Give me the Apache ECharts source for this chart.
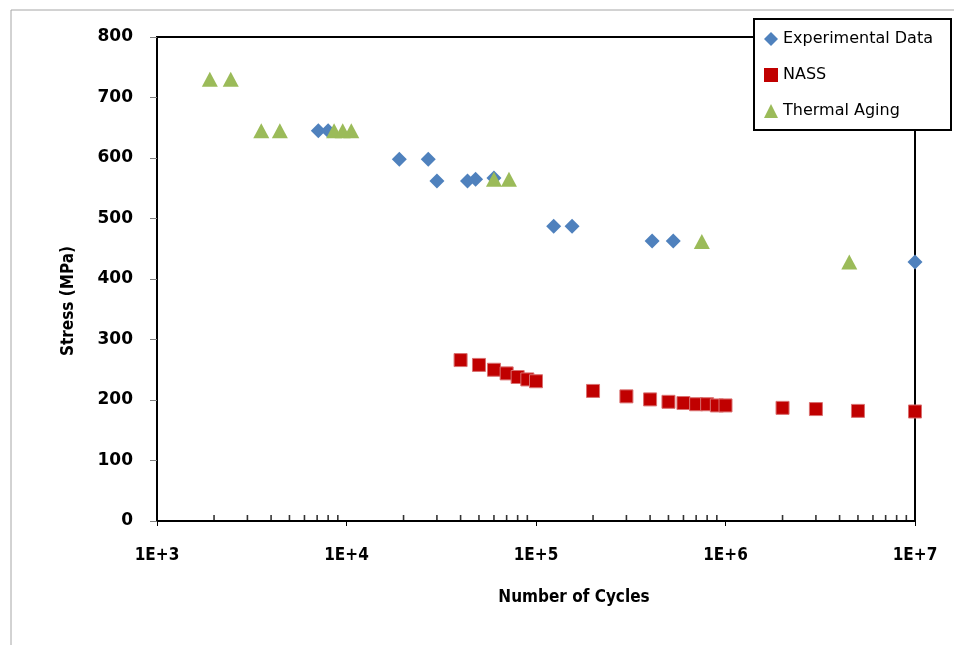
<!DOCTYPE html>
<html>
<head>
<meta charset="utf-8">
<style>
  html, body { margin: 0; padding: 0; background: #fff; }
  #main { width: 954px; height: 645px; }
</style>
<script src="https://cdn.jsdelivr.net/npm/echarts@6/dist/echarts.min.js"></script>
</head>
<body>
<div id="main"></div>
<script>
// 试验数据 Experimental Data
var expCycles = [7100, 8000, 19000, 27000, 30000, 43500, 48000, 60000, 124000, 155000, 410000, 530000, 10000000];
var expStress = [645, 645, 598, 598, 562, 562, 565, 567, 487, 487, 463, 463, 428];

// NASS
var nassCycles = [40000, 50000, 60000, 70000, 80000, 90000, 100000, 200000, 300000, 400000, 500000,
  600000, 700000, 800000, 900000, 1000000, 2000000, 3000000, 5000000, 10000000];
var nassStress = [266, 258, 250, 244, 238, 234, 231, 215, 206, 201, 197, 195, 193, 193, 191, 191, 187, 185, 182, 181];

// Thermal Aging
var agingCycles = [1900, 2450, 3550, 4450, 8600, 9550, 10600, 60000, 72000, 750000, 4500000];
var agingStress = [730, 730, 645, 645, 645, 645, 645, 565, 565, 462, 428];

// 坐标轴刻度
var decades = [1000, 10000, 100000, 1000000];
var minorSteps = [2, 3, 4, 5, 6, 7, 8, 9];
var yTicks = [0, 100, 200, 300, 400, 500, 600, 700, 800];

function pairs(xs, ys) {
  return xs.map(function (x, i) { return [x, ys[i]]; });
}
var minorTicks = [];
decades.forEach(function (d) {
  minorSteps.forEach(function (m) { minorTicks.push([d * m, 0]); });
});

var myChart = echarts.init(document.getElementById('main'));
var boldWide = 'DejaVu Sans';
var boldNarrow = 'DejaVu Sans Condensed';

var option = {
  animation: false,
  backgroundColor: '#fff',
  grid: {
    left: 157, right: 39, top: 37, bottom: 124,
    show: true,
    borderColor: '#000',
    borderWidth: 2
  },
  legend: {
    orient: 'vertical',
    left: 764,
    top: 31,
    padding: 0,
    itemGap: 20,
    itemWidth: 14,
    itemHeight: 14,
    z: 20,
    textStyle: { fontFamily: boldWide, fontSize: 16, color: '#000', lineHeight: 16 },
    data: [
      { name: 'Experimental Data', icon: 'diamond' },
      { name: 'NASS', icon: 'rect', itemStyle: { borderWidth: 0 } },
      { name: 'Thermal Aging', icon: 'triangle' }
    ]
  },
  xAxis: {
    type: 'log',
    logBase: 10,
    min: 1000,
    max: 10000000,
    axisLine: { show: false },
    axisTick: { show: true, length: 5, lineStyle: { color: '#000', width: 1 } },
    splitLine: { show: false },
    axisLabel: {
      margin: 26,
      fontFamily: boldNarrow,
      fontWeight: 'bold',
      fontSize: 17,
      color: '#000',
      formatter: function (v) {
        return '1E+' + Math.round(Math.log10(v));
      }
    }
  },
  yAxis: {
    type: 'value',
    min: 0,
    max: 800,
    interval: 100,
    axisLine: { show: false },
    axisTick: { show: true, length: 7, lineStyle: { color: '#808080' } },
    splitLine: { show: false },
    axisLabel: {
      margin: 24,
      fontFamily: boldWide,
      fontWeight: 'bold',
      fontSize: 17,
      color: '#000',
      formatter: function (v) { return yTicks.indexOf(v) >= 0 ? String(v) : ''; }
    },
    name: 'Stress (MPa)',
    nameLocation: 'middle',
    nameRotate: 90,
    nameGap: 80,
    nameTextStyle: {
      fontFamily: boldNarrow,
      fontWeight: 'bold',
      fontSize: 17,
      color: '#000',
      padding: [0, 0, 0, -44]
    }
  },
  graphic: [
    {
      type: 'rect',
      z: -1,
      shape: { x: 11, y: 10, width: 1000, height: 700 },
      style: { fill: 'none', stroke: '#a6a6a6', lineWidth: 1 }
    },
    {
      type: 'rect',
      z: 10,
      shape: { x: 754, y: 19, width: 197, height: 111 },
      style: { fill: '#fff', stroke: '#000', lineWidth: 2 }
    },
    {
      type: 'text',
      z: 10,
      x: 574,
      y: 598,
      style: {
        text: 'Number of Cycles',
        fontFamily: boldNarrow,
        fontWeight: 'bold',
        fontSize: 17,
        fill: '#000',
        align: 'center',
        verticalAlign: 'middle'
      }
    }
  ],
  series: [
    {
      name: 'minor',
      type: 'scatter',
      silent: true,
      clip: false,
      symbol: 'rect',
      symbolSize: [1.6, 6],
      symbolOffset: [0, -3],
      itemStyle: { color: '#000' },
      data: minorTicks,
      z: 1
    },
    {
      name: 'Experimental Data',
      type: 'scatter',
      symbol: 'diamond',
      symbolSize: [15, 15],
      itemStyle: { color: '#4F81BD', opacity: 1 },
      data: pairs(expCycles, expStress),
      z: 2
    },
    {
      name: 'NASS',
      type: 'scatter',
      symbol: 'rect',
      symbolSize: [13, 13],
      itemStyle: { color: '#C00000', borderColor: '#D97070', borderWidth: 1, opacity: 1 },
      data: pairs(nassCycles, nassStress),
      z: 3
    },
    {
      name: 'Thermal Aging',
      type: 'scatter',
      symbol: 'triangle',
      symbolSize: [16, 15],
      itemStyle: { color: '#9BBB59', opacity: 1 },
      data: pairs(agingCycles, agingStress),
      z: 4
    }
  ]
};

myChart.setOption(option);
window.addEventListener('resize', () => myChart.resize());
</script>
</body>
</html>
